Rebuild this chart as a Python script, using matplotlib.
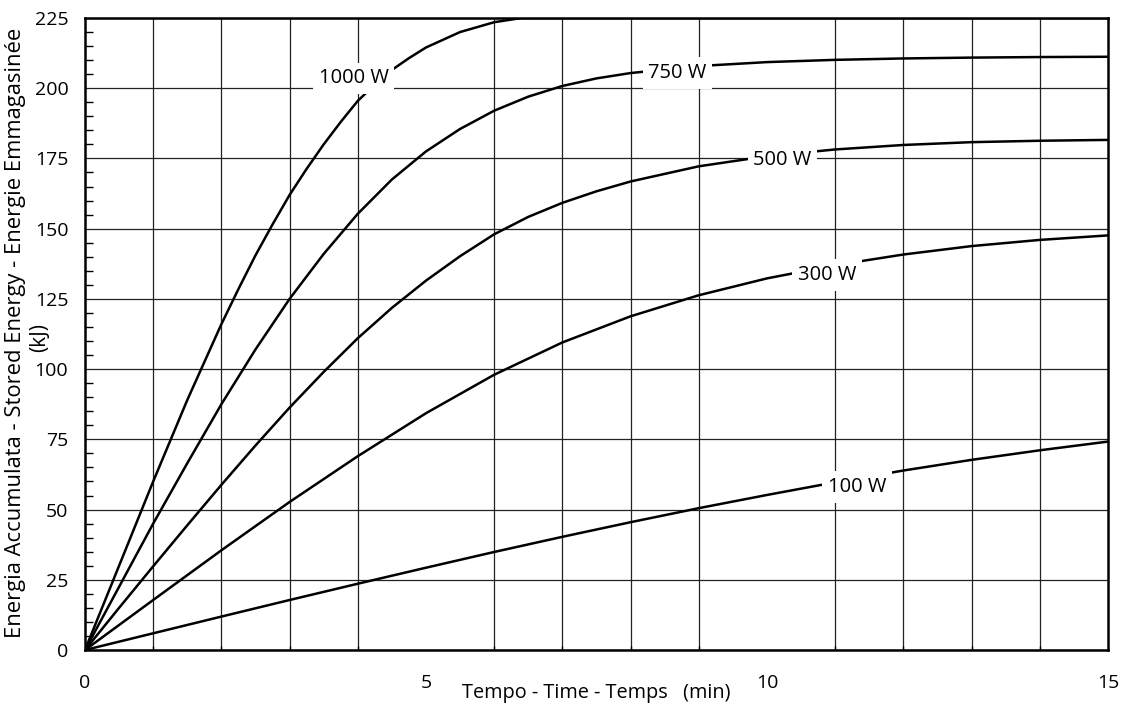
import numpy as np
import matplotlib
matplotlib.use('Agg')
import matplotlib.pyplot as plt
from matplotlib.ticker import MultipleLocator

plt.rcParams['font.family'] = ['Open Sans', 'DejaVu Sans']

# Stored energy curves (time in min, energy in kJ)
t_1000 = [0, 0.5, 1, 1.5, 2, 2.25, 2.5, 2.75, 3, 3.25, 3.5, 3.75, 4, 4.25, 4.5, 4.75, 5, 5.5, 6, 6.4, 15]
e_1000 = [0, 30, 60, 89, 116, 128.5, 140.5, 151.5, 162, 171.3, 180, 188, 195.5, 201.3, 206.5, 210.7,
          214.5, 220, 223.5, 225, 225]

t_750 = [0, 0.5, 1, 1.5, 2, 2.5, 3, 3.5, 4, 4.5, 5, 5.5, 6, 6.5, 7, 7.5, 8, 9, 10, 11, 12, 13, 14, 15]
e_750 = [0, 22.5, 45, 66.5, 87.5, 107, 125, 141, 155.3, 167.5, 177.5, 185.5, 192, 197, 200.8, 203.5,
         205.4, 207.9, 209.3, 210.1, 210.6, 210.9, 211.1, 211.2]

t_500 = [0, 0.5, 1, 1.5, 2, 2.5, 3, 3.5, 4, 4.5, 5, 5.5, 6, 6.5, 7, 7.5, 8, 9, 10, 11, 12, 13, 14, 15]
e_500 = [0, 15, 29.8, 44.4, 58.8, 72.8, 86.3, 99, 111, 121.8, 131.5, 140.2, 148, 154.2, 159.2, 163.3,
         166.8, 172.2, 175.8, 178.2, 179.8, 180.8, 181.3, 181.6]

t_300 = [0, 1, 2, 3, 4, 5, 6, 7, 8, 9, 10, 11, 12, 13, 14, 15]
e_300 = [0, 17.8, 35.5, 52.7, 69, 84.3, 98, 109.5, 118.8, 126.3, 132.3, 137, 140.8, 143.8, 146, 147.6]

t_100 = [0, 1, 2, 3, 4, 5, 6, 7, 8, 9, 10, 11, 12, 13, 14, 15]
e_100 = [0, 5.95, 11.9, 17.8, 23.6, 29.3, 34.9, 40.3, 45.5, 50.5, 55.2, 59.7, 63.9, 67.7, 71.1, 74.2]

labels = ['1000 W', '750 W', '500 W', '300 W', '100 W']
label_x = [3.94, 8.69, 10.23, 10.88, 11.32]
label_y = [203.5, 205.4, 174.4, 133.5, 58]

fig = plt.figure(figsize=(11.3, 7.06), dpi=100)
ax = fig.add_axes([0.0752, 0.0793, 0.9053, 0.8952])

for t, e in [(t_1000, e_1000), (t_750, e_750), (t_500, e_500), (t_300, e_300), (t_100, e_100)]:
    ax.plot(t, e, color='black', lw=1.8, solid_joinstyle='round', zorder=3)

for lab, lx, ly in zip(labels, label_x, label_y):
    ax.text(lx, ly, lab, fontsize=14.5, ha='center', va='center', zorder=4,
            bbox=dict(facecolor='white', edgecolor='none', pad=4))

ax.set_xlim(0, 15)
ax.set_ylim(0, 225)
ax.set_xticks([0, 5, 10, 15])
ax.set_yticks(np.arange(0, 226, 25))
ax.xaxis.set_minor_locator(MultipleLocator(1))
ax.yaxis.set_minor_locator(MultipleLocator(5))

ax.grid(True, which='major', axis='y', color='#222222', lw=0.9)
ax.grid(True, which='minor', axis='x', color='#222222', lw=0.9)

ax.tick_params(axis='x', which='major', length=0, pad=17, labelsize=14)
ax.tick_params(axis='x', which='minor', direction='in', length=3, width=1)
ax.tick_params(axis='y', which='major', length=0, pad=12, labelsize=14)
ax.tick_params(axis='y', which='minor', direction='in', length=6, width=1)

for s in ax.spines.values():
    s.set_linewidth(1.8)
    s.set_zorder(5)

ax.set_xlabel('Tempo - Time - Temps   (min)', fontsize=14.3)
ax.xaxis.set_label_coords(0.5, -0.052)

# y label: two separate lines, as in the original
fig.text(16 / 1130, 1 - 333 / 706, 'Energia Accumulata - Stored Energy - Energie Emmagasinée',
         rotation=90, ha='center', va='center', fontsize=15.8)
fig.text(40 / 1130, 1 - 337 / 706, '(kJ)', rotation=90, ha='center', va='center', fontsize=15)

fig.savefig('out.png', dpi=100)
